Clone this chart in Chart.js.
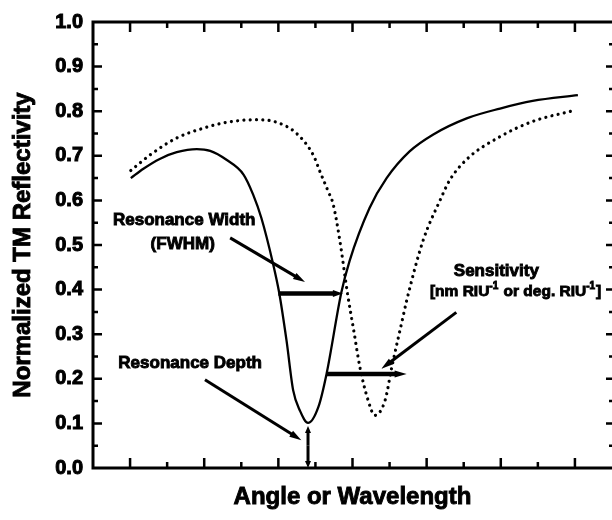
<!DOCTYPE html>
<html><head><meta charset="utf-8">
<script src="https://cdn.jsdelivr.net/npm/chart.js@4.4.1/dist/chart.umd.min.js"></script>
<style>html,body{margin:0;padding:0;background:#fff;overflow:hidden}#wrap{width:612px;height:520px}</style>
</head><body><div id="wrap"><canvas id="c" width="612" height="520"></canvas></div>
<script>
// ---- data ----
const solidAngle = [0.51,0.68,0.90,1.13,1.40,1.58,1.80,2.03,2.16,2.27,2.43,2.51,2.61,2.70,2.79,2.90,3.04,3.15,3.35,3.46,3.73,3.96,4.27,4.59,5.04,5.49,5.93,6.54];
const solidReflectivity = [0.650,0.671,0.693,0.708,0.715,0.711,0.691,0.658,0.613,0.561,0.457,0.394,0.286,0.174,0.129,0.101,0.137,0.211,0.394,0.464,0.583,0.650,0.710,0.748,0.784,0.806,0.823,0.836];
const dottedAngle = [0.51,0.77,1.13,1.49,1.80,2.21,2.48,2.74,2.97,3.06,3.17,3.24,3.33,3.43,3.52,3.60,3.71,3.80,3.94,4.03,4.18,4.23,4.45,4.68,4.81,5.04,5.49,5.93,6.52];
const dottedReflectivity = [0.667,0.702,0.740,0.762,0.775,0.781,0.775,0.751,0.702,0.665,0.621,0.591,0.509,0.394,0.305,0.226,0.152,0.118,0.152,0.226,0.338,0.375,0.509,0.600,0.645,0.692,0.743,0.777,0.803];
const yTickValues = [0.0,0.1,0.2,0.3,0.4,0.5,0.6,0.7,0.8,0.9,1.0];
const yMinorTicks = [0.05,0.15,0.25,0.35,0.45,0.55,0.65,0.75,0.85,0.95];
const xMajorTicks = [0.5,1.5,2.5,3.5,4.5,5.5,6.5];
const xMinorTicks = [1,2,3,4,5,6];
const xTitle = 'Angle or Wavelength';
const yTitle = 'Normalized TM Reflectivity';
const noteWidth = ['Resonance Width','(FWHM)'];
const noteDepth = 'Resonance Depth';
const noteSens = 'Sensitivity';
const noteUnits = [['[nm RIU',false],['-1',true],[' or deg. RIU',false],['-1',true],[']',false]];

const FONT = '"Liberation Sans", Arial, sans-serif';

function toPts(xs, ys){ return xs.map((x,i)=>({x:x,y:ys[i]})); }

function drawArrow(ctx, x1,y1,x2,y2, lw, hl, hw){
  const a = Math.atan2(y2-y1,x2-x1);
  const bx = x2 - Math.cos(a)*hl*0.8, by = y2 - Math.sin(a)*hl*0.8;
  ctx.lineWidth = lw; ctx.lineCap='butt';
  ctx.beginPath(); ctx.moveTo(x1,y1); ctx.lineTo(bx,by); ctx.stroke();
  ctx.beginPath();
  ctx.moveTo(x2,y2);
  ctx.lineTo(x2-Math.cos(a)*hl - Math.sin(a)*hw, y2-Math.sin(a)*hl + Math.cos(a)*hw);
  ctx.lineTo(x2-Math.cos(a)*hl + Math.sin(a)*hw, y2-Math.sin(a)*hl - Math.cos(a)*hw);
  ctx.closePath(); ctx.fill();
}

function boldText(ctx, t, x, y, size, align){
  ctx.font = 'bold '+size+'px '+FONT;
  ctx.textAlign = align||'center'; ctx.textBaseline='middle';
  ctx.lineWidth = 0.9; ctx.strokeStyle='#000'; ctx.fillStyle='#000';
  ctx.strokeText(t,x,y); ctx.fillText(t,x,y);
}

const framePlugin = {
  id:'frame',
  afterDraw(chart){
    const ctx = chart.ctx, a = chart.chartArea;
    const xs = chart.scales.x, ys = chart.scales.y;
    const X = v=>xs.getPixelForValue(v), Y = v=>ys.getPixelForValue(v);
    ctx.save();
    ctx.strokeStyle='#000'; ctx.fillStyle='#000'; ctx.lineCap='butt';
    // frame
    ctx.lineWidth = 3;
    ctx.beginPath();
    ctx.moveTo(a.left, a.top-1.5); ctx.lineTo(a.left, a.bottom+1.5);
    ctx.moveTo(a.left-1.5, a.bottom); ctx.lineTo(a.right+2, a.bottom);
    ctx.moveTo(a.left-1.5, a.top); ctx.lineTo(a.right+2, a.top);
    ctx.stroke();
    ctx.lineWidth = 2.5;
    ctx.beginPath();
    yTickValues.forEach(v=>{ if(v>0&&v<1){ ctx.moveTo(a.left,Y(v)); ctx.lineTo(a.left+9,Y(v)); ctx.moveTo(a.right,Y(v)); ctx.lineTo(a.right-6,Y(v)); }});
    yMinorTicks.forEach(v=>{ ctx.moveTo(a.left,Y(v)); ctx.lineTo(a.left+5,Y(v)); ctx.moveTo(a.right,Y(v)); ctx.lineTo(a.right-3,Y(v)); });
    xMajorTicks.forEach(v=>{ ctx.moveTo(X(v),a.bottom); ctx.lineTo(X(v),a.bottom-10); ctx.moveTo(X(v),a.top); ctx.lineTo(X(v),a.top+10); });
    xMinorTicks.forEach(v=>{ ctx.moveTo(X(v),a.bottom); ctx.lineTo(X(v),a.bottom-6); ctx.moveTo(X(v),a.top); ctx.lineTo(X(v),a.top+6); });
    ctx.stroke();

    // axis titles
    boldText(ctx, xTitle, (a.left+a.right)/2, 497, 24);
    ctx.save(); ctx.translate(23,(a.top+a.bottom)/2); ctx.rotate(-Math.PI/2);
    boldText(ctx, yTitle, 0, 0, 24); ctx.restore();

    // annotations (data coordinates)
    boldText(ctx, noteWidth[0], X(1.23), Y(0.556), 17);
    boldText(ctx, noteWidth[1], X(1.21), Y(0.502), 17);
    boldText(ctx, noteDepth, X(1.31), Y(0.234), 17);
    boldText(ctx, noteSens, X(5.44), Y(0.442), 17);
    // units line with superscripts
    let total=0;
    const widths = noteUnits.map(([t,sup])=>{ ctx.font='bold '+(sup?10:15.5)+'px '+FONT; const w=ctx.measureText(t).width+(sup?1:0); total+=w; return w; });
    let cx = X(5.70)-total/2, cy = Y(0.395);
    noteUnits.forEach(([t,sup],i)=>{ boldText(ctx,t,cx,sup?cy-6:cy,sup?10:15.5,'left'); cx+=widths[i]; });

    // arrows
    drawArrow(ctx, X(1.85),Y(0.516), X(2.86),Y(0.417), 3, 12, 3.5);
    drawArrow(ctx, X(2.50),Y(0.391), X(3.37),Y(0.391), 4.5, 10, 3.5);
    drawArrow(ctx, X(1.51),Y(0.198), X(2.81),Y(0.0625), 3, 12, 3.5);
    drawArrow(ctx, X(3.15),Y(0.211), X(4.23),Y(0.211), 4.5, 12, 3.5);
    drawArrow(ctx, X(4.90),Y(0.349), X(3.89),Y(0.2225), 3, 12, 3.5);
    // depth double arrow
    drawArrow(ctx, X(2.90),Y(0.05), X(2.90),Y(0.094), 3, 7, 3);
    drawArrow(ctx, X(2.90),Y(0.05), X(2.90),Y(0.0), 3, 7, 3);
    ctx.restore();
  }
};

new Chart(document.getElementById('c'), {
  type:'scatter',
  data:{ datasets:[
    { data: toPts(solidAngle, solidReflectivity), showLine:true, borderColor:'#000', borderWidth:2.3, pointRadius:0, cubicInterpolationMode:'monotone', fill:false },
    { data: toPts(dottedAngle, dottedReflectivity), showLine:true, borderColor:'#000', borderWidth:3.2, borderDash:[0.01,6.3], borderCapStyle:'round', pointRadius:0, cubicInterpolationMode:'monotone', fill:false }
  ]},
  options:{
    responsive:false, animation:false, devicePixelRatio:1,
    layout:{ padding:{ top:22, right:0, left:0, bottom:0 } },
    plugins:{ legend:{display:false}, tooltip:{enabled:false} },
    scales:{
      x:{ type:'linear', min:0, max:7, grid:{display:false, drawTicks:false}, border:{display:false},
          ticks:{display:false}, afterFit(s){ s.height = 52; } },
      y:{ type:'linear', min:0, max:1, grid:{display:false, drawTicks:false}, border:{display:false},
          afterBuildTicks(s){ s.ticks = yTickValues.map(v=>({value:v})); },
          ticks:{ color:'#000', padding:10, font:{family:FONT, size:20, weight:'bold'}, textStrokeColor:'#000', textStrokeWidth:1,
                  callback:v=>Number(v).toFixed(1) },
          afterFit(s){ s.width = 93; } }
    }
  },
  plugins:[framePlugin]
});
</script></body></html>
